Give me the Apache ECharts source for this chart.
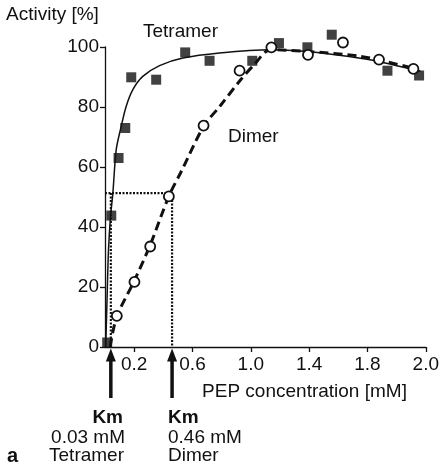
<!DOCTYPE html>
<html>
<head>
<meta charset="utf-8">
<style>
  html, body { margin: 0; padding: 0; background: #fff; }
  #chart { width: 442px; height: 469px; }
</style>
<script src="https://cdn.jsdelivr.net/npm/echarts@6/dist/echarts.min.js"></script>
</head>
<body>
<div id="chart"></div>
<script>
// measured points (PEP mM, activity %)
const tetramerX = [0.015, 0.043, 0.093, 0.139, 0.18, 0.351, 0.55, 0.717, 1.01, 1.193, 1.388, 1.555, 1.937, 2.154];
const tetramerY = [1.5, 43.8, 63, 73, 89.9, 89.1, 98.2, 95.4, 95.4, 101.3, 99.9, 104.1, 92.1, 90.5];
const dimerX = [0.081, 0.202, 0.31, 0.438, 0.676, 0.923, 1.141, 1.392, 1.632, 1.879, 2.115];
const dimerY = [10.4, 21.7, 33.5, 50.2, 73.8, 92.1, 99.9, 97.4, 101.5, 95.8, 92.7];

// fitted curves
const tetramerFitX = [0.005, 0.014, 0.024, 0.038, 0.054, 0.077, 0.111, 0.145, 0.191, 0.259, 0.374, 0.534, 0.785, 1.135, 1.387, 1.661, 1.878, 2.164];
const tetramerFitY = [0, 15.8, 32.4, 43.5, 51.3, 65.8, 73.5, 80.2, 85.8, 90.2, 93.8, 96.3, 98, 99.1, 98.5, 96.9, 95.2, 91.9];
const dimerFitX = [0.035, 0.08, 0.2, 0.31, 0.44, 0.523, 0.676, 0.792, 0.929, 1.021, 1.135, 1.387, 1.752, 2.107];
const dimerFitY = [0, 10, 22, 34, 50.5, 58.5, 73.5, 80.5, 89, 94, 99.1, 98.5, 96.9, 93];

// Km guides
const kmX = [0.04, 0.46];
const halfActivity = 51.3;
const kmNames = ['Tetramer', 'Dimer'];
const kmValues = ['0.03 mM', '0.46 mM'];

// x ticks as printed on the figure (last one reads 2.0)
const xTickValues = [0.2, 0.6, 1.0, 1.4, 1.8, 2.2];
const xTickLabels = ['0.2', '0.6', '1.0', '1.4', '1.8', '2.0'];

const zip = (xs, ys) => xs.map((x, i) => [x, ys[i]]);
const font = '"Liberation Sans", Arial, Helvetica, sans-serif';
const ink = '#111';

const chart = echarts.init(document.getElementById('chart'));

const arrowSeries = kmX.map((x) => ({
  type: 'line',
  clip: false,
  silent: true,
  lineStyle: { color: ink, width: 3.5 },
  data: [
    { value: [x, -17], symbol: 'none' },
    { value: [x, -2.7], symbol: 'triangle', symbolSize: [10, 13], itemStyle: { color: ink } },
  ],
  z: 5,
}));

const guide = (data) => ({
  type: 'line',
  clip: false,
  silent: true,
  symbol: 'none',
  lineStyle: { color: ink, width: 2.2, type: [2, 1.5] },
  data,
  z: 1,
});

const text = (t, x, y, extra) => ({
  type: 'text',
  x,
  y,
  style: Object.assign({ text: t, fontFamily: font, fontSize: 19, fill: ink, align: 'left', verticalAlign: 'middle' }, extra),
});

chart.setOption({
  animation: false,
  grid: { left: 105, right: 16, top: 47, bottom: 122 },
  xAxis: {
    type: 'value',
    min: 0,
    max: 2.2,
    splitLine: { show: false },
    axisLine: { lineStyle: { color: ink, width: 1.3 } },
    axisTick: { customValues: xTickValues, length: 5, lineStyle: { color: ink, width: 1.3 } },
    axisLabel: {
      customValues: xTickValues,
      margin: 8,
      color: ink,
      fontFamily: font,
      fontSize: 19,
      formatter: (v) => xTickLabels[xTickValues.findIndex((t) => Math.abs(t - v) < 1e-6)],
    },
  },
  yAxis: {
    type: 'value',
    min: 0,
    max: 100,
    interval: 20,
    splitLine: { show: false },
    axisLine: { show: true, lineStyle: { color: ink, width: 1.3 } },
    axisTick: { show: true, length: 5, lineStyle: { color: ink, width: 1.3 } },
    axisLabel: { margin: 6, color: ink, fontFamily: font, fontSize: 19 },
  },
  series: [
    guide([[0, halfActivity], [kmX[1], halfActivity]]),
    guide([[kmX[0], halfActivity], [kmX[0], 0]]),
    guide([[kmX[1], halfActivity], [kmX[1], 0]]),
    {
      type: 'line',
      name: 'Tetramer fit',
      clip: false,
      smooth: 0.3,
      symbol: 'none',
      lineStyle: { color: ink, width: 1.5 },
      data: zip(tetramerFitX, tetramerFitY),
      z: 2,
    },
    {
      type: 'line',
      name: 'Dimer fit',
      clip: false,
      smooth: 0.3,
      symbol: 'none',
      lineStyle: { color: ink, width: 3, type: [9, 5] },
      data: zip(dimerFitX, dimerFitY),
      z: 2,
    },
    {
      type: 'scatter',
      name: 'Tetramer',
      clip: false,
      symbol: 'rect',
      symbolSize: 10,
      itemStyle: { color: ink },
      data: zip(tetramerX, tetramerY),
      z: 3,
    },
    {
      type: 'scatter',
      name: 'Dimer',
      clip: false,
      symbol: 'circle',
      symbolSize: 10,
      itemStyle: { color: '#ffffff', opacity: 1, borderColor: ink, borderWidth: 1.8 },
      data: zip(dimerX, dimerY),
      z: 4,
    },
    ...arrowSeries,
  ],
  graphic: [
    text('Activity [%]', 6, 14.5),
    text('Tetramer', 143, 31.5),
    text('Dimer', 228, 137),
    text('PEP concentration [mM]', 304.5, 392, { align: 'center' }),
    text('Km', 123, 418, { align: 'right', fontWeight: 'bold' }),
    text(kmValues[0], 125, 437.5, { align: 'right' }),
    text(kmNames[0], 124, 456, { align: 'right' }),
    text('Km', 168, 418, { fontWeight: 'bold' }),
    text(kmValues[1], 168, 437.5),
    text(kmNames[1], 168, 456),
    text('a', 7, 456, { fontWeight: 'bold', fontSize: 20 }),
  ],
});

window.addEventListener('resize', () => chart.resize());
</script>
</body>
</html>
